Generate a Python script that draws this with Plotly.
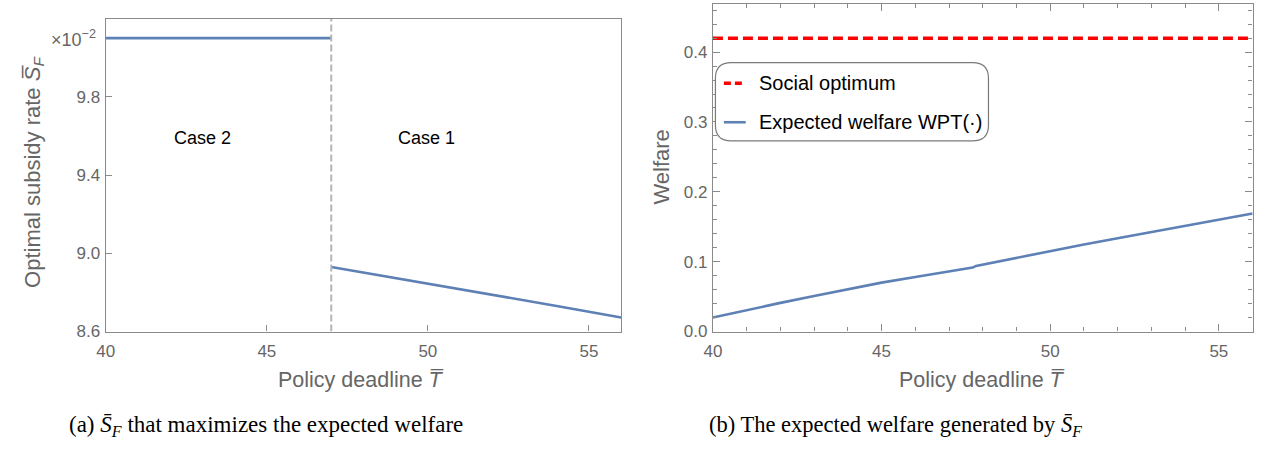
import plotly.graph_objects as go

W, H = 1263, 454

# ---------------- data ----------------
case2_T = [40, 47]
case2_S = [10.10, 10.10]
case1_T = [47, 48, 50, 52, 54, 56]
case1_S = [8.93, 8.902, 8.845, 8.788, 8.731, 8.672]
boundary_T = 47.0

welfare_T = [40, 41, 42, 43, 44, 45, 46, 47, 47.7, 47.8, 49, 50, 51, 52, 53, 54, 55, 56]
welfare_W = [0.020, 0.031, 0.041, 0.051, 0.061, 0.070, 0.078, 0.086, 0.0915,
             0.094, 0.1055, 0.1155, 0.1245, 0.1335, 0.1425, 0.1515, 0.1605, 0.169]
social_opt_T = [40, 56]
social_opt_W = [0.42, 0.42]

left_xticks = [40, 45, 50, 55]
left_yticks = [8.6, 9.0, 9.4, 9.8]
right_xticks = [40, 45, 50, 55]
right_yticks = [0.0, 0.1, 0.2, 0.3, 0.4]

BLUE = "#5E81B5"
RED = "#FF0000"
GRAY = "#8a8a8a"
TXT = "#666666"
FONT = "Liberation Sans, Arial, sans-serif"
SERIF = "Liberation Serif, Times New Roman, serif"


def px(x):
    return x / W


def py(y):
    return 1 - y / H


fig = go.Figure()

fig.add_trace(go.Scatter(x=case2_T, y=case2_S, mode="lines", line=dict(color=BLUE, width=2.6),
                         xaxis="x", yaxis="y", showlegend=False))
fig.add_trace(go.Scatter(x=case1_T, y=case1_S, mode="lines", line=dict(color=BLUE, width=2.6),
                         xaxis="x", yaxis="y", showlegend=False))
fig.add_trace(go.Scatter(x=[boundary_T, boundary_T], y=[8.6, 10.2], mode="lines",
                         line=dict(color="#b5b5b5", width=2, dash="7px,3px"),
                         xaxis="x", yaxis="y", showlegend=False))

fig.add_trace(go.Scatter(x=social_opt_T, y=social_opt_W, mode="lines",
                         line=dict(color=RED, width=3.5, dash="10px,5px"),
                         xaxis="x2", yaxis="y2", name="Social optimum", showlegend=False))
fig.add_trace(go.Scatter(x=welfare_T, y=welfare_W, mode="lines", line=dict(color=BLUE, width=2.6),
                         xaxis="x2", yaxis="y2", name="Expected welfare WPT(·)", showlegend=False))

axis_common = dict(showgrid=False, zeroline=False, showline=True, linecolor=GRAY, linewidth=1.3,
                   ticks="inside", tickcolor=GRAY, tickfont=dict(family=FONT, size=17, color=TXT))

fig.update_layout(
    width=W, height=H, margin=dict(l=0, r=0, t=0, b=0),
    paper_bgcolor="white", plot_bgcolor="white", showlegend=False,
    xaxis=dict(domain=[px(97.5), px(616.5)], range=[40, 56], tickvals=left_xticks,
               anchor="y", mirror=True, ticklen=6, ticklabelstandoff=4, **axis_common),
    yaxis=dict(domain=[py(339), py(19)], range=[8.6, 10.2], tickvals=left_yticks,
               ticktext=[f"{v:.1f}" for v in left_yticks], ticklabelstandoff=1,
               anchor="x", mirror=True, ticklen=6, **axis_common),
    xaxis2=dict(domain=[px(709), px(1252.5)], range=[40, 56], tickvals=right_xticks,
                anchor="y2", mirror="allticks", ticklen=7, ticklabelstandoff=4,
                minor=dict(dtick=1, ticklen=4, ticks="inside", tickcolor=GRAY, showgrid=False),
                **axis_common),
    yaxis2=dict(domain=[py(339), py(4)], range=[0, 0.469], tickvals=right_yticks,
                ticktext=[f"{v:.1f}" for v in right_yticks], ticklabelstandoff=1,
                anchor="x2", mirror="allticks", ticklen=7,
                minor=dict(dtick=0.02, tick0=0, ticklen=4, ticks="inside", tickcolor=GRAY, showgrid=False),
                **axis_common),
)


def pa(x, y, text, size, color, family=FONT, angle=0, xanchor="center"):
    return dict(x=px(x), y=py(y), xref="paper", yref="paper", text=text, showarrow=False,
                xanchor=xanchor, yanchor="middle", textangle=angle,
                font=dict(family=family, size=size, color=color))


ann = []
# scale label
ann.append(dict(x=px(90), y=10.1, xref="paper", yref="y", xanchor="right", yanchor="middle",
                text="×10<sup>−2</sup>", showarrow=False, font=dict(family=FONT, size=18, color=TXT)))
# case labels
ann.append(dict(x=43.0, y=9.59, xref="x", yref="y", text="Case 2", showarrow=False,
                xanchor="center", yanchor="middle", font=dict(family=FONT, size=18, color="black")))
ann.append(dict(x=49.97, y=9.59, xref="x", yref="y", text="Case 1", showarrow=False,
                xanchor="center", yanchor="middle", font=dict(family=FONT, size=18, color="black")))
# axis titles
ann.append(pa(354.5, 389, "Policy deadline <i>T̅</i>", 21.5, TXT))
ann.append(pa(980, 389, "Policy deadline <i>T̅</i>", 21.5, TXT))
ann.append(pa(25, 176, "Optimal subsidy rate <i>S̅</i><sub><i>F</i></sub>", 22, TXT, angle=-90))
ann.append(pa(657, 171, "Welfare", 22, TXT, angle=-90))
# captions
ann.append(pa(259, 436, "(a) <i>S̄</i><sub><i>F</i></sub> that maximizes the expected welfare", 23, "black", SERIF))
ann.append(pa(893, 436, "(b) The expected welfare generated by <i>S̄</i><sub><i>F</i></sub>", 22.5, "black", SERIF))
# legend texts
ann.append(pa(753, 85, "Social optimum", 20, "black", xanchor="left"))
ann.append(pa(753, 125, "Expected welfare WPT(·)", 20, "black", xanchor="left"))
fig.update_layout(annotations=ann)

# legend box (rounded) and samples
x0, x1, y0, y1, r = 711.5, 986.5, 64, 144, 16
X = px
Y = py
path = (f"M {X(x0 + r)},{Y(y0)} L {X(x1 - r)},{Y(y0)} Q {X(x1)},{Y(y0)} {X(x1)},{Y(y0 + r)} "
        f"L {X(x1)},{Y(y1 - r)} Q {X(x1)},{Y(y1)} {X(x1 - r)},{Y(y1)} "
        f"L {X(x0 + r)},{Y(y1)} Q {X(x0)},{Y(y1)} {X(x0)},{Y(y1 - r)} "
        f"L {X(x0)},{Y(y0 + r)} Q {X(x0)},{Y(y0)} {X(x0 + r)},{Y(y0)} Z")
shapes = [
    dict(type="path", path=path, xref="paper", yref="paper", line=dict(color="#7a7a7a", width=1.2),
         fillcolor="white"),
    dict(type="line", xref="paper", yref="paper", x0=X(720), x1=X(742), y0=Y(85), y1=Y(85),
         line=dict(color=RED, width=3.5, dash="7px,4px")),
    dict(type="line", xref="paper", yref="paper", x0=X(720), x1=X(742), y0=Y(125), y1=Y(125),
         line=dict(color=BLUE, width=2.6)),
]
fig.update_layout(shapes=shapes)

fig.write_html("out.html")
